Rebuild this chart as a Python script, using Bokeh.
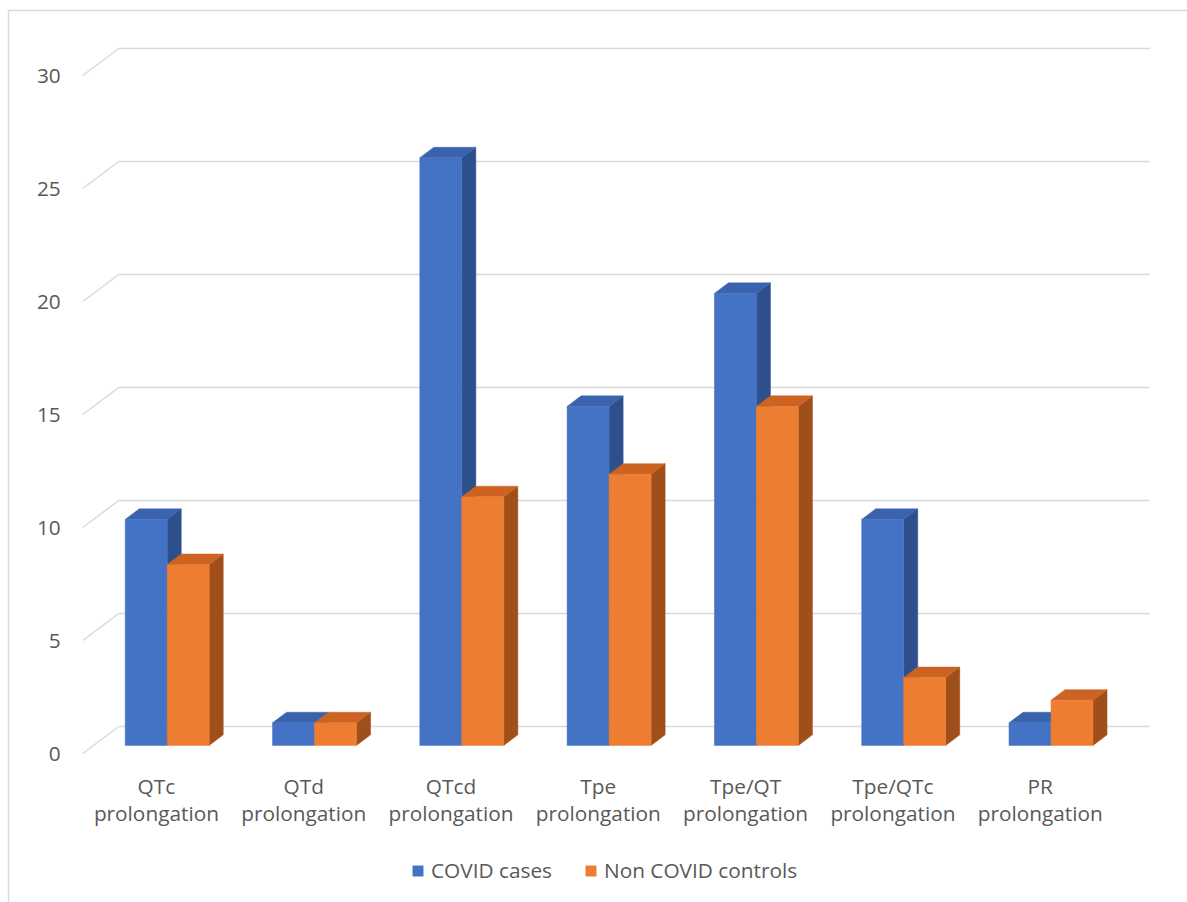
from bokeh.plotting import figure
from bokeh.models import Range1d, Legend, LegendItem
from bokeh.core.properties import value
from bokeh.embed import file_html
from bokeh.resources import INLINE

# ---- data ----
categories = ["QTc prolongation", "QTd prolongation", "QTcd prolongation", "Tpe prolongation",
              "Tpe/QT prolongation", "Tpe/QTc prolongation", "PR prolongation"]
covid_cases = [10, 1, 26, 15, 20, 10, 1]
non_covid_controls = [8, 1, 11, 12, 15, 3, 2]
y_ticks = [0, 5, 10, 15, 20, 25, 30]
series_names = ["COVID cases", "Non COVID controls"]

# ---- geometry (pixel scale of the canvas) ----
W, H = 1187, 902
PX_X = 147.3      # pixels per category
PX_Y = 22.6       # pixels per value unit
X0 = 155.9        # pixel of first category centre (front plane)
Y0 = 753.0        # pixel (from top) of value 0 (front plane)

def px_x(px):
    return (px - X0) / PX_X

def px_y(py):
    return (Y0 - py) / PX_Y

DX = 36 / PX_X    # full depth offset in data units
DY = 27 / PX_Y
D0 = 0.30         # depth of bar front face
T = 0.39          # bar thickness (fraction of depth)
BW = 42 / PX_X    # bar width

FONT = "Open Sans"
FS = "20.8px"
TXT = "#595959"
GRID = "#d9d9d9"

p = figure(width=W, height=H, output_backend="svg", toolbar_location=None,
           x_range=Range1d(px_x(0), px_x(W)), y_range=Range1d(px_y(H), px_y(0)),
           x_axis_location=None, y_axis_location=None, min_border=0)
p.outline_line_color = None
p.xgrid.visible = False
p.ygrid.visible = False
p.background_fill_color = "white"

# chart border (left and top)
p.segment(x0=[px_x(8), px_x(8)], y0=[px_y(10), px_y(10)], x1=[px_x(8), px_x(W)], y1=[px_y(H), px_y(10)],
          line_color=GRID, line_width=1.5)

# gridlines: diagonal at left + back wall horizontal
xl = -0.5
xr = len(categories) - 0.5
p.segment(x0=[xl] * len(y_ticks), y0=y_ticks, x1=[xl + DX] * len(y_ticks), y1=[v + DY for v in y_ticks],
          line_color=GRID, line_width=1.5)
p.segment(x0=[xl + DX] * len(y_ticks), y0=[v + DY for v in y_ticks], x1=[xr + DX] * len(y_ticks),
          y1=[v + DY for v in y_ticks], line_color=GRID, line_width=1.5)

# tick labels
p.text(x=[xl] * len(y_ticks), y=y_ticks, text=[str(v) for v in y_ticks], x_offset=-22,
       text_align="right", text_baseline="middle", text_font=value(FONT),
       text_font_size=FS, text_color=TXT)

# category labels
p.text(x=list(range(len(categories))), y=[px_y(799)] * len(categories),
       text=[c.replace(" ", "\n") for c in categories], text_align="center",
       text_baseline="middle", text_font=value(FONT), text_font_size=FS,
       text_color=TXT, text_line_height=0.95)

colors = [("#4472C4", "#3A63AE", "#2D4F8C"), ("#ED7D31", "#CC6322", "#A04F1B")]
front_renderers = []
for s, vals in enumerate([covid_cases, non_covid_controls]):
    front, top, side = colors[s]
    lefts, rights, bottoms, tops = [], [], [], []
    for i, v in enumerate(vals):
        L = i + D0 * DX - BW + s * BW
        lefts.append(L)
        rights.append(L + BW)
        bottoms.append(D0 * DY)
        tops.append(v + D0 * DY)
    sx = [[r, r, r + T * DX, r + T * DX] for r, b, t in zip(rights, bottoms, tops)]
    sy = [[b, t, t + T * DY, b + T * DY] for r, b, t in zip(rights, bottoms, tops)]
    p.patches(xs=sx, ys=sy, fill_color=side, line_color=side, line_width=0.5)
    tx = [[l, r, r + T * DX, l + T * DX] for l, r in zip(lefts, rights)]
    ty = [[t, t, t + T * DY, t + T * DY] for t in tops]
    p.patches(xs=tx, ys=ty, fill_color=top, line_color=top, line_width=0.5)
    fr = p.quad(left=lefts, right=rights, bottom=bottoms, top=tops, fill_color=front,
                line_color=front, line_width=0.5)
    front_renderers.append(fr)

legend = Legend(items=[LegendItem(label=series_names[k], renderers=[front_renderers[k]]) for k in range(2)],
                orientation="horizontal", location=(411, 18))
legend.glyph_width = 13
legend.glyph_height = 13
legend.label_standoff = 7
legend.spacing = 32
legend.padding = 0
legend.margin = 0
legend.border_line_color = None
legend.background_fill_alpha = 0
legend.label_text_font = FONT
legend.label_text_font_size = FS
legend.label_text_color = TXT
p.add_layout(legend, "center")

open("out.html", "w").write(file_html(p, INLINE))
